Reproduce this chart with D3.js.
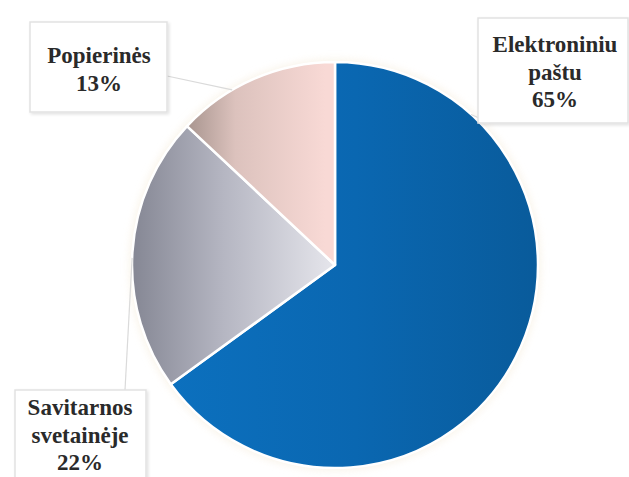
<!DOCTYPE html>
<html>
<head>
<meta charset="utf-8">
<script src="https://cdn.jsdelivr.net/npm/d3@7"></script>
<style>
  html, body { margin: 0; padding: 0; background: #fff; }
  svg { display: block; }
</style>
</head>
<body>
<svg id="chart" width="629" height="477"></svg>
<script>
// ---- data ----
const categories = ["Elektroniniu paštu", "Savitarnos svetainėje", "Popierinės"];
const values = [65, 22, 13];
const labelLines = [["Elektroniniu", "paštu", "65%"], ["Savitarnos", "svetainėje", "22%"], ["Popierinės", "13%"]];

// ---- layout ----
const W = 629, H = 477;
const cx = 335, cy = 265, R = 203;
const svg = d3.select("#chart");
const defs = svg.append("defs");

// gradients (userSpaceOnUse, coordinates relative to pie centre)
const grads = [
  { id: "gBlue", x1: -R, x2: R, stops: [["0%", "#0c72c1"], ["55%", "#0a67b1"], ["100%", "#095b9b"]] },
  { id: "gGrey", x1: -R, x2: 0, stops: [["0%", "#858794"], ["45%", "#b5b6c2"], ["100%", "#e6e6ec"]] },
  { id: "gPink", x1: -R + 55, x2: -10, stops: [["0%", "#a8958f"], ["35%", "#dcc2bd"], ["100%", "#f8d9d5"]] }
];
grads.forEach(g => {
  const lg = defs.append("linearGradient").attr("id", g.id)
    .attr("gradientUnits", "userSpaceOnUse")
    .attr("x1", g.x1).attr("x2", g.x2).attr("y1", 0).attr("y2", 0);
  g.stops.forEach(s => lg.append("stop").attr("offset", s[0]).attr("stop-color", s[1]));
});
const fills = ["url(#gBlue)", "url(#gGrey)", "url(#gPink)"];

// soft glow around pie
const flt = defs.append("filter").attr("id", "glow").attr("x", "-10%").attr("y", "-10%").attr("width", "120%").attr("height", "120%");
flt.append("feGaussianBlur").attr("stdDeviation", 4);

const boxShadow = defs.append("filter").attr("id", "bshadow").attr("x", "-10%").attr("y", "-10%").attr("width", "130%").attr("height", "130%");
boxShadow.append("feDropShadow").attr("dx", 1.5).attr("dy", 1.5).attr("stdDeviation", 1.5).attr("flood-color", "#000").attr("flood-opacity", 0.12);

const pie = d3.pie().sort(null).value(d => d)(values);
const arc = d3.arc().innerRadius(0).outerRadius(R);

const g = svg.append("g").attr("transform", `translate(${cx},${cy})`);

g.append("circle").attr("r", R + 2).attr("fill", "#f7efe0").attr("opacity", 0.8).attr("filter", "url(#glow)");

g.selectAll("path.slice").data(pie).enter().append("path")
  .attr("class", "slice")
  .attr("d", arc)
  .attr("fill", (d, i) => fills[i])
  .attr("stroke", "#ffffff")
  .attr("stroke-width", 2.5)
  .attr("stroke-linejoin", "round");

// ---- labels (layout) ----
const boxes = [
  { x: 478, y: 18, w: 150, h: 105, tx: 555, ty: 52, lead: [[490, 123], 0.18] },
  { x: 15, y: 390, w: 131, h: 95, tx: 80, ty: 415, lead: [[125, 390], 0.48] },
  { x: 30, y: 22, w: 137, h: 90, tx: 99, ty: 63, lead: [[167, 76], 0.35] }
];
const lineH = 27.5;

boxes.forEach((b, i) => {
  const d = pie[i];
  const a = d.startAngle + (d.endAngle - d.startAngle) * b.lead[1];
  const ex = cx + R * Math.sin(a), ey = cy - R * Math.cos(a);
  svg.append("line")
    .attr("x1", b.lead[0][0]).attr("y1", b.lead[0][1])
    .attr("x2", ex).attr("y2", ey)
    .attr("stroke", "#dadada").attr("stroke-width", 1.2);
});

boxes.forEach((b, i) => {
  svg.append("rect")
    .attr("x", b.x).attr("y", b.y).attr("width", b.w).attr("height", b.h)
    .attr("fill", "#fff").attr("stroke", "#e2e2e2").attr("stroke-width", 1.5)
    .attr("filter", "url(#bshadow)");
  const t = svg.append("text")
    .attr("text-anchor", "middle")
    .attr("font-family", "'Liberation Serif', 'Times New Roman', serif")
    .attr("font-weight", "bold")
    .attr("font-size", 23)
    .attr("fill", "#2a2a2a");
  labelLines[i].forEach((ln, k) => {
    t.append("tspan").attr("x", b.tx).attr("y", b.ty + k * lineH).text(ln);
  });
});
</script>
</body>
</html>
